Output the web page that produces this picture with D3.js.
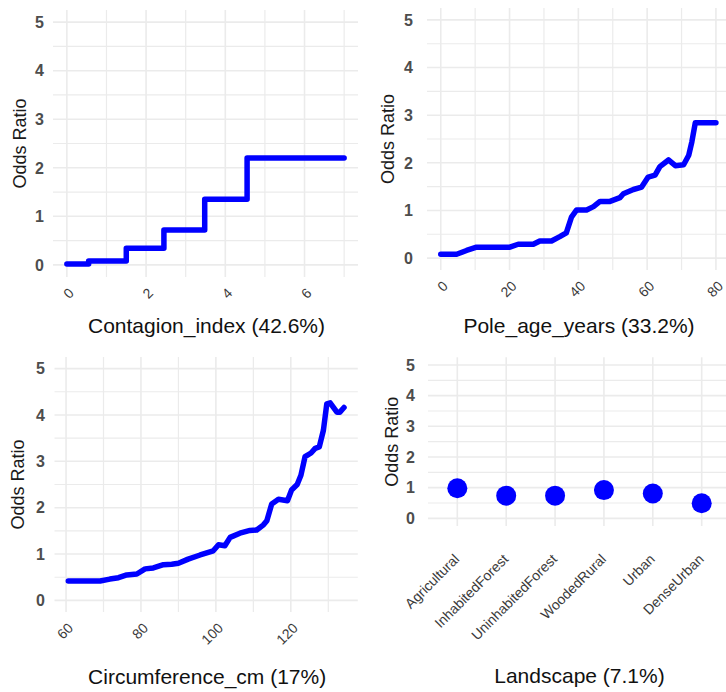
<!DOCTYPE html>
<html>
<head>
<meta charset="utf-8">
<script src="https://cdn.jsdelivr.net/npm/d3@7"></script>
<style>
  body { margin: 0; background: #fff; }
  svg { display: block; font-family: "Liberation Sans", Arial, sans-serif; }
</style>
</head>
<body>
<div id="chart"></div>
<script>
// partial dependence, odds ratio scale
var contagionX = [0, 0.55, 1.5, 2.45, 3.48, 4.55, 7];
var contagionOR = [0.02, 0.08, 0.34, 0.72, 1.35, 2.2, 2.2];
var contagionTicks = [0, 2, 4, 6];

var poleAgeX = [0, 4.6, 7.5, 10.4, 20.1, 22.5, 26.9, 28.8, 32.2, 34.6, 36.5, 38, 39.5, 42.4, 44.4, 46.3,
  49.2, 52.1, 53.1, 56, 58.4, 60.3, 62.3, 63.7, 66.2, 68.2, 70.6, 72.1, 73, 74, 80];
var poleAgeOR = [0.08, 0.08, 0.16, 0.23, 0.23, 0.29, 0.29, 0.36, 0.36, 0.45, 0.53, 0.86, 1.01, 1.01, 1.08, 1.19,
  1.19, 1.27, 1.35, 1.44, 1.49, 1.7, 1.74, 1.92, 2.06, 1.94, 1.96, 2.16, 2.44, 2.84, 2.84];
var poleAgeTicks = [0, 20, 40, 60, 80];

var circumX = [60.6, 69.1, 71.7, 74, 76.2, 78.9, 81.1, 83.3, 86, 88.2, 90, 92.6, 95.8, 99.3, 100.7, 102.4,
  103.8, 106.4, 109.1, 110.9, 112.7, 113.6, 114.9, 116.7, 119.1, 120.2, 121.7, 122.7, 123.8, 125.4, 126.5,
  127.6, 128.7, 129.6, 130.5, 132.3, 133.1, 134.2];
var circumOR = [0.42, 0.42, 0.46, 0.49, 0.55, 0.57, 0.68, 0.7, 0.77, 0.78, 0.8, 0.89, 0.98, 1.07, 1.2, 1.18,
  1.36, 1.45, 1.51, 1.52, 1.63, 1.72, 2.08, 2.18, 2.15, 2.38, 2.5, 2.7, 3.1, 3.18, 3.28,
  3.31, 3.67, 4.24, 4.26, 4.06, 4.06, 4.16];
var circumTicks = [60, 80, 100, 120];

var landscapeCats = ["Agricultural", "InhabitedForest", "UninhabitedForest", "WoodedRural", "Urban", "DenseUrban"];
var landscapeOR = [0.98, 0.74, 0.74, 0.92, 0.81, 0.49];

var oddsTicks = [0, 1, 2, 3, 4, 5];
var oddsLimits = [0, 5];

var width = 726, height = 692;
var lineColor = "#0000ff", gridColor = "#ebebeb";

var svg = d3.select("#chart").append("svg")
  .attr("width", width)
  .attr("height", height);

var panels = [
  { kind: "step", xs: contagionX, ys: contagionOR, ticks: contagionTicks, title: "Contagion_index (42.6%)",
    left: 53, right: 358, top: 10, bottom: 277, yLabelX: 44, yTitleX: 20, titleY: 333 },
  { kind: "line", xs: poleAgeX, ys: poleAgeOR, ticks: poleAgeTicks, title: "Pole_age_years (33.2%)",
    left: 427, right: 729.7, top: 8, bottom: 270, yLabelX: 413, yTitleX: 388, titleY: 333 },
  { kind: "line", xs: circumX, ys: circumOR, ticks: circumTicks, title: "Circumference_cm (17%)",
    left: 54.5, right: 357.8, top: 357, bottom: 612, yLabelX: 45, yTitleX: 18, titleY: 684 },
  { kind: "points", cats: landscapeCats, ys: landscapeOR, title: "Landscape (7.1%)",
    left: 428, right: 731, top: 357.3, bottom: 526, yLabelX: 415, yTitleX: 392, titleY: 683 }
];

panels.forEach(drawPanel);

function expand(ext) {
  var pad = (ext[1] - ext[0]) * 0.05;
  return [ext[0] - pad, ext[1] + pad];
}

function drawPanel(p) {
  var g = svg.append("g");

  var y = d3.scaleLinear()
    .domain(expand(oddsLimits))
    .range([p.bottom, p.top]);

  var x, xMajor, xMinor = [];
  if (p.kind === "points") {
    x = d3.scalePoint().domain(p.cats).range([p.left, p.right]).padding(0.6);
    xMajor = p.cats;
  } else {
    x = d3.scaleLinear().domain(expand(d3.extent(p.xs))).range([p.left, p.right]);
    xMajor = p.ticks;
    var step = p.ticks[1] - p.ticks[0];
    var dom = x.domain();
    xMinor = d3.range(p.ticks[0] - step / 2, dom[1], step).filter(function(v) {
      return v >= dom[0] && v <= dom[1];
    });
  }

  var yMinor = d3.range(0.5, 5, 1);
  var clipRight = Math.min(p.right, width);

  // grid
  g.selectAll(".ymin").data(yMinor).enter().append("line")
    .attr("x1", p.left).attr("x2", clipRight)
    .attr("y1", function(d) { return y(d); }).attr("y2", function(d) { return y(d); })
    .attr("stroke", gridColor).attr("stroke-width", 1.2);
  g.selectAll(".xmin").data(xMinor).enter().append("line")
    .attr("y1", p.top).attr("y2", p.bottom)
    .attr("x1", function(d) { return x(d); }).attr("x2", function(d) { return x(d); })
    .attr("stroke", gridColor).attr("stroke-width", 1.2);
  g.selectAll(".ymaj").data(oddsTicks).enter().append("line")
    .attr("x1", p.left).attr("x2", clipRight)
    .attr("y1", function(d) { return y(d); }).attr("y2", function(d) { return y(d); })
    .attr("stroke", gridColor).attr("stroke-width", 1.6);
  g.selectAll(".xmaj").data(xMajor).enter().append("line")
    .attr("y1", p.top).attr("y2", p.bottom)
    .attr("x1", function(d) { return x(d); }).attr("x2", function(d) { return x(d); })
    .attr("stroke", gridColor).attr("stroke-width", 1.6);

  // y tick labels
  g.selectAll(".ylab").data(oddsTicks).enter().append("text")
    .attr("x", p.yLabelX)
    .attr("y", function(d) { return y(d); })
    .attr("dy", "0.36em")
    .attr("text-anchor", "end")
    .attr("font-size", 16)
    .attr("font-weight", "bold")
    .attr("fill", "#4d4d4d")
    .text(function(d) { return d; });

  // x tick labels, rotated 45
  var isCat = p.kind === "points";
  var dx = isCat ? 3 : 8, dy = isCat ? 34 : 17;
  g.selectAll(".xlab").data(xMajor).enter().append("text")
    .attr("transform", function(d) {
      return "translate(" + (x(d) + dx) + "," + (p.bottom + dy) + ") rotate(-45)";
    })
    .attr("text-anchor", "end")
    .attr("font-size", 14)
    .attr("fill", "#3a3a3a")
    .text(function(d) { return d; });

  // axis titles
  g.append("text")
    .attr("transform", "translate(" + p.yTitleX + "," + (p.top + p.bottom) / 2 + ") rotate(-90)")
    .attr("dy", "0.35em")
    .attr("text-anchor", "middle")
    .attr("font-size", 18)
    .attr("fill", "#1a1a1a")
    .text("Odds Ratio");

  g.append("text")
    .attr("x", (p.left + Math.min(p.right, 729)) / 2 + 1)
    .attr("y", p.titleY)
    .attr("text-anchor", "middle")
    .attr("font-size", 21)
    .attr("fill", "#111")
    .text(p.title);

  // marks
  if (p.kind === "points") {
    g.selectAll(".pt").data(p.cats).enter().append("circle")
      .attr("cx", function(d) { return x(d); })
      .attr("cy", function(d, i) { return y(p.ys[i]); })
      .attr("r", 10)
      .attr("fill", lineColor);
  } else {
    var pts = p.xs.map(function(v, i) { return [v, p.ys[i]]; });
    var line = d3.line()
      .x(function(d) { return x(d[0]); })
      .y(function(d) { return y(d[1]); })
      .curve(p.kind === "step" ? d3.curveStepAfter : d3.curveLinear);
    g.append("path")
      .datum(pts)
      .attr("d", line)
      .attr("fill", "none")
      .attr("stroke", lineColor)
      .attr("stroke-width", 5.5)
      .attr("stroke-linejoin", "round")
      .attr("stroke-linecap", "round");
  }
}
</script>
</body>
</html>
